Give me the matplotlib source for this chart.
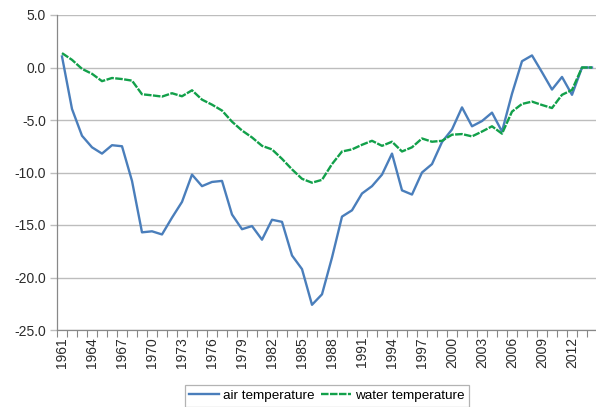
import matplotlib
matplotlib.use("Agg")
import matplotlib.pyplot as plt
from matplotlib.ticker import FixedLocator, NullFormatter

plt.rcParams["font.family"] = ["Liberation Sans", "DejaVu Sans"]

years = list(range(1961, 2015))
air_temperature = [
    1.05, -3.95, -6.5, -7.6, -8.2, -7.4, -7.5, -10.8, -15.7, -15.6,
    -15.9, -14.3, -12.8, -10.2, -11.3, -10.9, -10.8, -14.0, -15.4, -15.1,
    -16.4, -14.5, -14.7, -17.9, -19.2, -22.6, -21.6, -18.1, -14.2, -13.6,
    -12.0, -11.3, -10.2, -8.2, -11.7, -12.1, -10.0, -9.2, -7.1, -5.9,
    -3.8, -5.6, -5.1, -4.3, -6.1, -2.5, 0.6, 1.15, -0.45, -2.1,
    -0.9, -2.6, 0.0, 0.0,
]
water_temperature = [
    1.37, 0.73, -0.13, -0.6, -1.3, -1.0, -1.1, -1.25, -2.55, -2.65,
    -2.77, -2.45, -2.74, -2.17, -3.06, -3.54, -4.1, -5.16, -6.0, -6.66,
    -7.46, -7.8, -8.7, -9.7, -10.6, -10.97, -10.7, -9.2, -8.0, -7.8,
    -7.36, -6.98, -7.46, -7.07, -8.0, -7.6, -6.76, -7.07, -6.98, -6.4,
    -6.34, -6.56, -6.1, -5.6, -6.3, -4.2, -3.47, -3.25, -3.57, -3.86,
    -2.6, -2.14, 0.0, 0.0,
]
y_ticks = [5.0, 0.0, -5.0, -10.0, -15.0, -20.0, -25.0]

fig = plt.figure(figsize=(5.96, 4.07), dpi=100)
ax = fig.add_axes([57 / 596, 1 - 330 / 407, 540 / 596, 315 / 407])

x = list(range(len(years)))
ax.plot(x, air_temperature, color="#4a7ebb", linewidth=1.7, label="air temperature", zorder=3)
ax.plot(x, water_temperature, color="#12a04a", linewidth=1.7, linestyle=(0, (3.2, 0.6)),
        label="water temperature", zorder=4)

ax.set_xlim(-0.5, len(years) - 0.5)
ax.set_ylim(-25, 5)
ax.set_yticks(y_ticks)
ax.set_yticklabels([f"{v:.1f}" for v in y_ticks], fontsize=10, color="#2b2b2b")
ax.yaxis.grid(True, color="#bdbdbd", linewidth=1.0)
ax.set_axisbelow(True)

# year labels every 3 years, tick marks between every category
label_pos = [i for i, yr in enumerate(years) if (yr - 1961) % 3 == 0]
ax.set_xticks(label_pos)
ax.set_xticklabels([str(years[i]) for i in label_pos], rotation=90, fontsize=10, color="#2b2b2b")
ax.tick_params(axis="x", which="major", length=0, pad=5)
ax.xaxis.set_minor_locator(FixedLocator([i - 0.5 for i in range(len(years) + 1)]))
ax.xaxis.set_minor_formatter(NullFormatter())
ax.tick_params(axis="x", which="minor", length=5, color="#888888", width=0.8)
ax.tick_params(axis="y", length=5, color="#bdbdbd", width=1.0, pad=3)

for side in ["top", "right"]:
    ax.spines[side].set_visible(False)
ax.spines["left"].set_color("#888888")
ax.spines["bottom"].set_color("#888888")
ax.spines["left"].set_linewidth(0.9)
ax.spines["bottom"].set_linewidth(0.9)

leg = fig.legend(loc="upper center", bbox_to_anchor=(327 / 596, 1 - 385 / 407), ncol=2,
                 fontsize=9.7, frameon=True, fancybox=False, handlelength=2.2,
                 handletextpad=0.3, columnspacing=0.5, borderpad=0.35, borderaxespad=0)
leg.get_frame().set_edgecolor("#a0a0a0")
leg.get_frame().set_linewidth(0.9)

fig.savefig("out.png", dpi=100)
